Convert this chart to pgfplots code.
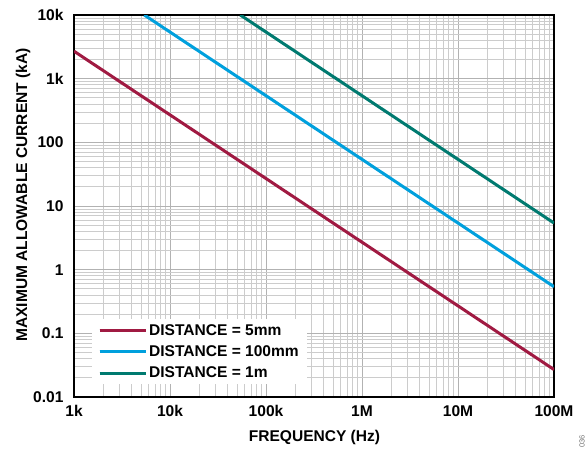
\documentclass[border=0pt]{standalone}
\usepackage{pgfplots}
\pgfplotsset{compat=1.18}
\usepackage{fontspec}
\setmainfont{Liberation Sans}
\definecolor{cRed}{RGB}{160,26,66}
\definecolor{cBlue}{RGB}{0,160,221}
\definecolor{cTeal}{RGB}{0,122,112}
\begin{document}
\begin{tikzpicture}
\useasboundingbox (0,0) rectangle (587bp,-452bp);
\begin{axis}[
  at={(74bp,-397bp)}, anchor=south west,
  scale only axis, width=480bp, height=382bp,
  xmode=log, ymode=log,
  xmin=1e3, xmax=1e8, ymin=0.01, ymax=1e4,
  xtick={1e3,1e4,1e5,1e6,1e7,1e8},
  xticklabels={1k,10k,100k,1M,10M,100M},
  ytick={0.01,0.1,1,10,100,1000,10000},
  yticklabels={0.01,0.1,1,10,100,1k,10k},
  grid=both,
  major grid style={black!30, line width=0.8bp},
  minor grid style={black!20, line width=0.8bp},
  major tick length=0pt, minor tick length=0pt,
  axis line style={black, line width=1.2bp},
  tick label style={font=\fontsize{15.6}{18}\selectfont\bfseries},
  xticklabel style={yshift=-5bp},
  yticklabel style={xshift=-7bp},
  label style={font=\fontsize{15.6}{18}\selectfont\bfseries},
  xlabel={FREQUENCY (Hz)},
  xlabel style={at={(axis description cs:0.501,-0.107)}, anchor=center},
  ylabel={MAXIMUM ALLOWABLE CURRENT (kA)},
  ylabel style={at={(axis description cs:-0.106,0.529)}, anchor=center},
  legend style={at={(axis description cs:0.0375,0.204)}, anchor=north west,
    draw=none, fill=white, font=\fontsize{15.6}{18}\selectfont\bfseries,
    row sep=5bp, inner xsep=6bp, inner ysep=3bp},
  legend cell align=left,
  legend image code/.code={\draw[#1] (0bp,0bp) -- (40bp,0bp); \path (0bp,0bp) -- (46bp,0bp);},
]
\addplot[cRed, line width=3bp] coordinates {(1e3,2700) (1e8,0.027)};
\addlegendentry{DISTANCE = 5mm}
\addplot[cBlue, line width=3bp] coordinates {(5.4e3,1e4) (1e8,0.54)};
\addlegendentry{DISTANCE = 100mm}
\addplot[cTeal, line width=3bp] coordinates {(5.4e4,1e4) (1e8,5.4)};
\addlegendentry{DISTANCE = 1m}
\end{axis}
\node[rotate=90, anchor=east, font=\fontsize{7.5}{8}\selectfont, text=black!55] at (582bp,-432bp) {036};
\end{tikzpicture}
\end{document}
